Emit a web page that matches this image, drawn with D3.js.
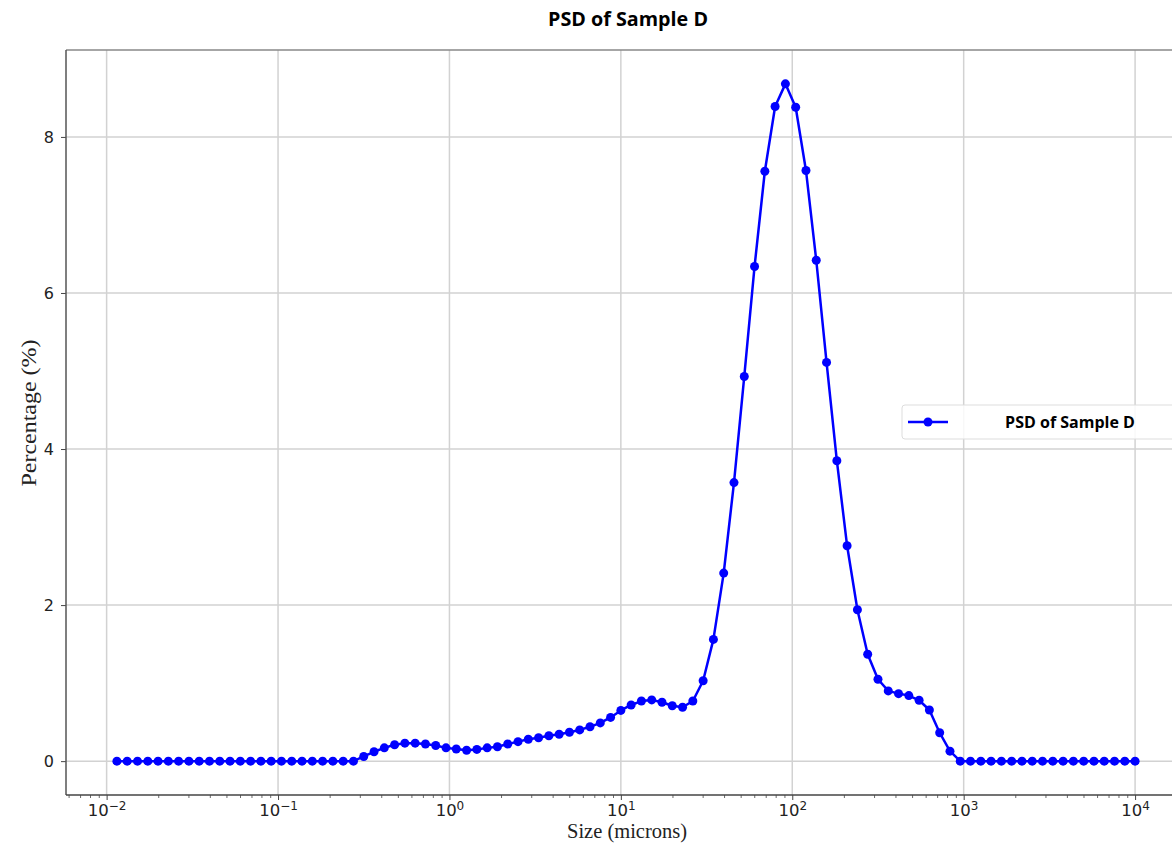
<!DOCTYPE html>
<html>
<head>
<meta charset="utf-8">
<script src="https://cdn.jsdelivr.net/npm/d3@7"></script>
<style>
  body { margin: 0; background: #fff; }
  svg { display: block; }
</style>
</head>
<body>
<div id="chart"></div>
<script>
'use strict';

// particle sizes (microns), log-spaced bins
var sizes = [
  0.01148, 0.01318, 0.01514, 0.01738, 0.01995, 0.02291, 0.02630, 0.03020, 0.03467, 0.03981,
  0.04571, 0.05248, 0.06026, 0.06918, 0.07943, 0.09120, 0.1047, 0.1202, 0.1380, 0.1585,
  0.1820, 0.2089, 0.2399, 0.2754, 0.3162, 0.3631, 0.4169, 0.4786, 0.5495, 0.6310,
  0.7244, 0.8318, 0.9550, 1.096, 1.259, 1.445, 1.660, 1.905, 2.188, 2.512,
  2.884, 3.311, 3.802, 4.365, 5.012, 5.754, 6.607, 7.586, 8.710, 10.00,
  11.48, 13.18, 15.14, 17.38, 19.95, 22.91, 26.30, 30.20, 34.67, 39.81,
  45.71, 52.48, 60.26, 69.18, 79.43, 91.20, 104.7, 120.2, 138.0, 158.5,
  182.0, 208.9, 239.9, 275.4, 316.2, 363.1, 416.9, 478.6, 549.5, 631.0,
  724.4, 831.8, 955.0, 1096, 1259, 1445, 1660, 1905, 2188, 2512,
  2884, 3311, 3802, 4365, 5012, 5754, 6607, 7586, 8710, 10000
];

// percentage per bin
var percents = [
  0, 0, 0, 0, 0, 0, 0, 0, 0, 0,
  0, 0, 0, 0, 0, 0, 0, 0, 0, 0,
  0, 0, 0, 0, 0.06, 0.12, 0.17, 0.21, 0.23, 0.23,
  0.22, 0.20, 0.17, 0.155, 0.14, 0.15, 0.17, 0.185, 0.22, 0.25,
  0.28, 0.30, 0.325, 0.345, 0.37, 0.40, 0.44, 0.49, 0.56, 0.65,
  0.72, 0.77, 0.785, 0.755, 0.71, 0.69, 0.77, 1.03, 1.56, 2.41,
  3.57, 4.93, 6.34, 7.56, 8.39, 8.68, 8.38, 7.57, 6.42, 5.11,
  3.85, 2.76, 1.94, 1.37, 1.05, 0.90, 0.865, 0.84, 0.78, 0.655,
  0.364, 0.128, 0, 0, 0, 0, 0, 0, 0, 0,
  0, 0, 0, 0, 0, 0, 0, 0, 0, 0
];

var xTickValues = [0.01, 0.1, 1, 10, 100, 1000, 10000];
var xTickExps = ['\u22122', '\u22121', '0', '1', '2', '3', '4'];
var yTickValues = [0, 2, 4, 6, 8];

var title = 'PSD of Sample D';
var seriesName = 'PSD of Sample D';
var xLabel = 'Size (microns)';
var yLabel = 'Percentage (%)';

var width = 1172, height = 848;
var plot = {left: 66, top: 50, right: 1186, bottom: 795};
var blue = '#0000ff';

var svg = d3.select('#chart').append('svg')
  .attr('width', width)
  .attr('height', height);

var x = d3.scaleLog()
  .domain([Math.pow(10, -2.237), Math.pow(10, 4.297)])
  .range([plot.left, plot.right]);

var y = d3.scaleLinear()
  .domain([-0.434, 9.114])
  .range([plot.bottom, plot.top]);

var data = sizes.map(function(s, i) { return {size: s, value: percents[i]}; });

// grid
var grid = svg.append('g').attr('class', 'grid');
grid.selectAll('.gx')
  .data(xTickValues)
  .enter().append('line')
  .attr('x1', function(d) { return x(d); })
  .attr('x2', function(d) { return x(d); })
  .attr('y1', plot.top)
  .attr('y2', plot.bottom)
  .style('stroke', '#d2d2d2')
  .style('stroke-width', 1.5);
grid.selectAll('.gy')
  .data(yTickValues)
  .enter().append('line')
  .attr('x1', plot.left)
  .attr('x2', plot.right)
  .attr('y1', function(d) { return y(d); })
  .attr('y2', function(d) { return y(d); })
  .style('stroke', '#d2d2d2')
  .style('stroke-width', 1.5);

// minor ticks for the log axis
var minor = [];
for (var k = -3; k <= 4; k++) {
  for (var m = 2; m <= 9; m++) {
    var v = m * Math.pow(10, k);
    if (v > x.domain()[0] && v < x.domain()[1]) minor.push(v);
  }
}

var xMinor = d3.axisBottom(x).tickValues(minor).tickSize(3).tickFormat('');
svg.append('g')
  .attr('transform', 'translate(0,' + plot.bottom + ')')
  .call(xMinor)
  .call(function(g) {
    g.select('.domain').remove();
    g.selectAll('line').style('stroke', '#444').style('stroke-width', 0.8);
  });

var xAxis = d3.axisBottom(x).tickValues(xTickValues).tickSize(5).tickFormat('');
var gx = svg.append('g')
  .attr('transform', 'translate(0,' + plot.bottom + ')')
  .call(xAxis);
gx.select('.domain').remove();
gx.selectAll('line').style('stroke', '#444').style('stroke-width', 1);
gx.selectAll('.tick text')
  .attr('y', 21)
  .attr('dy', 0)
  .style('font-family', 'DejaVu Sans, sans-serif')
  .style('font-size', '16.5px')
  .style('fill', '#222')
  .each(function(d, i) {
    var t = d3.select(this);
    t.append('tspan').text('10');
    t.append('tspan')
      .attr('dy', '-0.5em')
      .style('font-size', '12px')
      .text(xTickExps[i]);
  });

var yAxis = d3.axisLeft(y).tickValues(yTickValues).tickSize(5).tickPadding(7);
var gy = svg.append('g')
  .attr('transform', 'translate(' + plot.left + ',0)')
  .call(yAxis);
gy.select('.domain').remove();
gy.selectAll('line').style('stroke', '#444');
gy.selectAll('text')
  .style('font-family', 'DejaVu Sans, sans-serif')
  .style('font-size', '16px')
  .style('fill', '#222');

// frame
svg.append('line')
  .attr('x1', plot.left).attr('x2', plot.right)
  .attr('y1', plot.top).attr('y2', plot.top)
  .style('stroke', '#888').style('stroke-width', 1.5);
svg.append('line')
  .attr('x1', plot.left).attr('x2', plot.left)
  .attr('y1', plot.top).attr('y2', plot.bottom)
  .style('stroke', '#555').style('stroke-width', 1.5);
svg.append('line')
  .attr('x1', plot.left).attr('x2', plot.right)
  .attr('y1', plot.bottom).attr('y2', plot.bottom)
  .style('stroke', '#444').style('stroke-width', 1.5);

// series
var line = d3.line()
  .x(function(d) { return x(d.size); })
  .y(function(d) { return y(d.value); });

svg.append('path')
  .datum(data)
  .attr('d', line)
  .style('fill', 'none')
  .style('stroke', blue)
  .style('stroke-width', 2.5)
  .style('stroke-linejoin', 'round');

svg.append('g').selectAll('circle')
  .data(data)
  .enter().append('circle')
  .attr('cx', function(d) { return x(d.size); })
  .attr('cy', function(d) { return y(d.value); })
  .attr('r', 4.5)
  .style('fill', blue);

// title and labels
svg.append('text')
  .attr('x', 628)
  .attr('y', 26)
  .attr('text-anchor', 'middle')
  .attr('textLength', 160)
  .attr('lengthAdjust', 'spacingAndGlyphs')
  .style('font-family', 'Open Sans, sans-serif')
  .style('font-weight', 'bold')
  .style('font-size', '19px')
  .style('fill', '#000')
  .text(title);

svg.append('text')
  .attr('x', 627)
  .attr('y', 838)
  .attr('text-anchor', 'middle')
  .attr('textLength', 120)
  .attr('lengthAdjust', 'spacingAndGlyphs')
  .style('font-family', 'Liberation Serif, serif')
  .style('font-size', '20px')
  .style('fill', '#222')
  .text(xLabel);

svg.append('text')
  .attr('transform', 'translate(36,413) rotate(-90)')
  .attr('text-anchor', 'middle')
  .attr('textLength', 147)
  .attr('lengthAdjust', 'spacingAndGlyphs')
  .style('font-family', 'Liberation Serif, serif')
  .style('font-size', '20px')
  .style('fill', '#222')
  .text(yLabel);

// legend
var legend = svg.append('g').attr('transform', 'translate(902,405)');
legend.append('rect')
  .attr('width', 290)
  .attr('height', 34)
  .attr('rx', 3)
  .style('fill', '#fff')
  .style('fill-opacity', 0.85)
  .style('stroke', '#ddd');
legend.append('line')
  .attr('x1', 6).attr('x2', 46)
  .attr('y1', 17).attr('y2', 17)
  .style('stroke', blue)
  .style('stroke-width', 2.5);
legend.append('circle')
  .attr('cx', 26).attr('cy', 17).attr('r', 4.5)
  .style('fill', blue);
legend.append('text')
  .attr('x', 1070 - 902)
  .attr('y', 23)
  .attr('text-anchor', 'middle')
  .style('font-family', 'Open Sans, sans-serif')
  .style('font-weight', 'bold')
  .style('font-size', '16px')
  .style('fill', '#000')
  .text(seriesName);
</script>
</body>
</html>
